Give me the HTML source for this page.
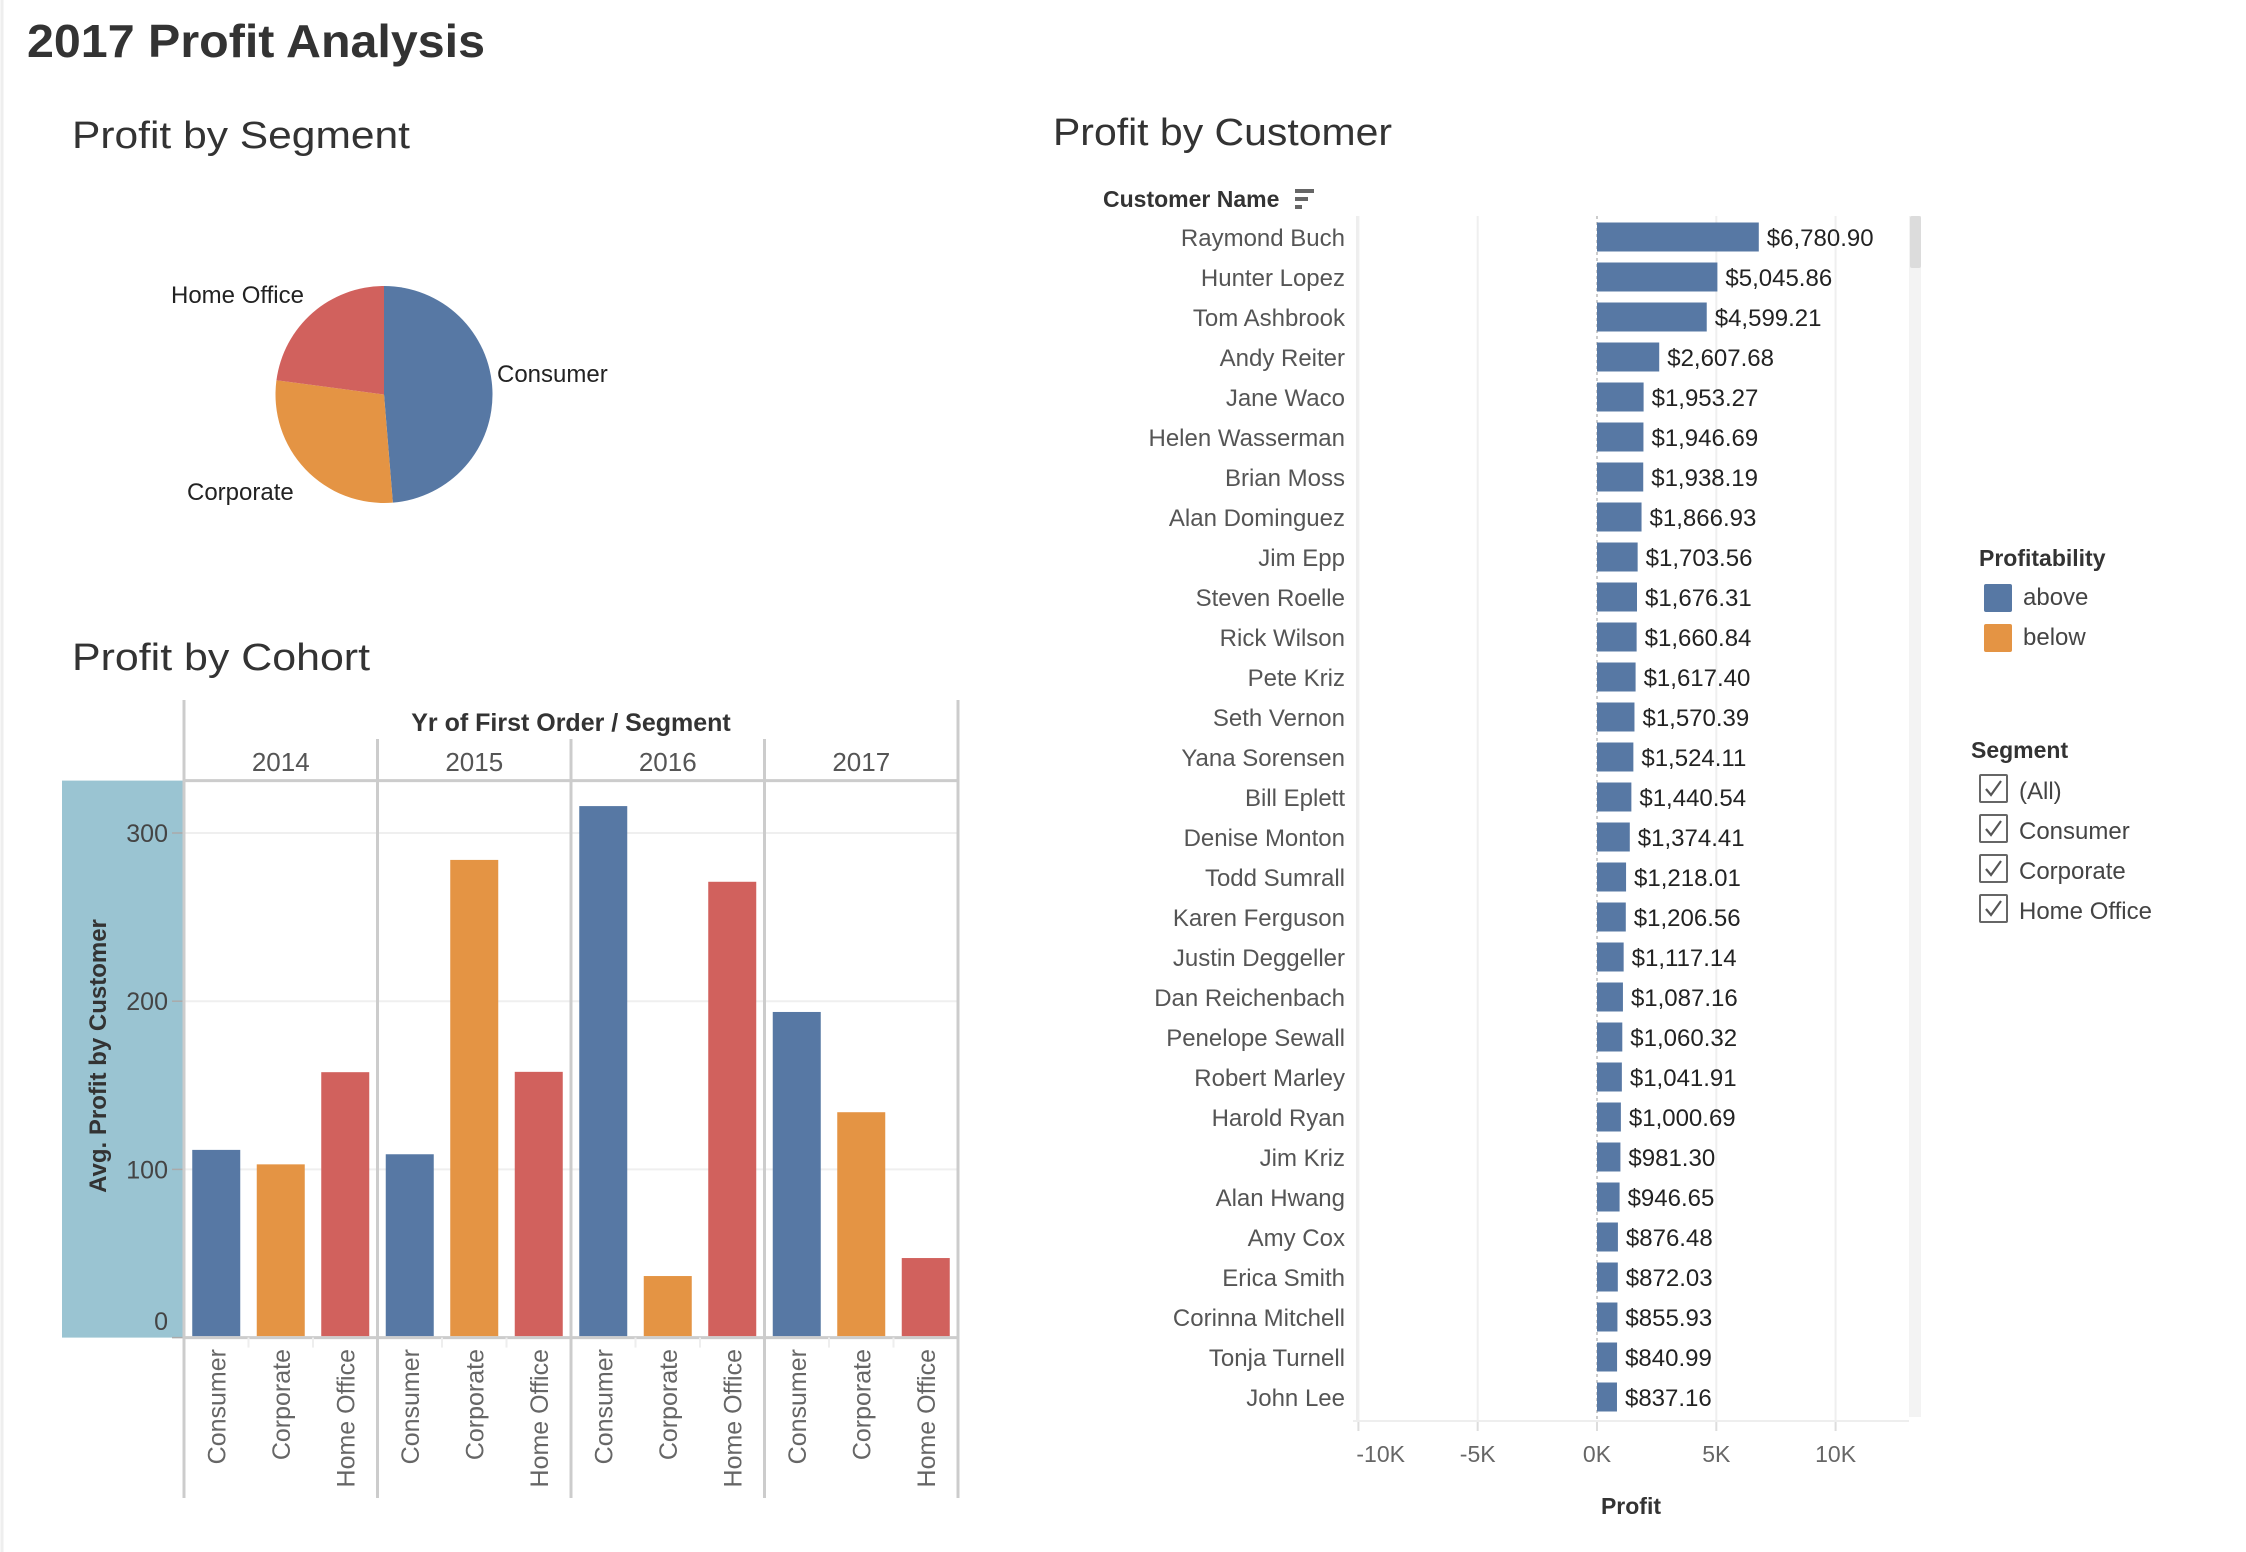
<!DOCTYPE html>
<html><head><meta charset="utf-8">
<style>
html,body{margin:0;padding:0;background:#fff;}
svg{display:block;font-family:"Liberation Sans",sans-serif;}
</style></head>
<body>
<svg id="root" xmlns="http://www.w3.org/2000/svg" width="2246" height="1552" viewBox="0 0 2246 1552">
<rect x="0" y="0" width="2246" height="1552" fill="#fff"/>
<line x1="2" y1="0" x2="2" y2="1552" stroke="#eeeeee" stroke-width="3"/>
<text x="27" y="57" font-size="46" font-weight="bold" fill="#333" textLength="458" lengthAdjust="spacingAndGlyphs">2017 Profit Analysis</text>
<text x="72" y="148" font-size="38" fill="#333" textLength="338" lengthAdjust="spacingAndGlyphs">Profit by Segment</text>
<text x="72" y="670" font-size="38" fill="#333" textLength="298" lengthAdjust="spacingAndGlyphs">Profit by Cohort</text>
<text x="1053" y="145" font-size="38" fill="#333" textLength="339" lengthAdjust="spacingAndGlyphs">Profit by Customer</text>
<g id="pie"></g>
<g id="cohort"></g>
<g id="cust"></g>
<g id="legend"></g>
</svg>
<script>
// ---- data ----
const pieSegments = ["Consumer","Corporate","Home Office"];
const pieValues = [48.7, 28.4, 22.9];
const cohortYears = ["2014","2015","2016","2017"];
const cohortSegments = ["Consumer","Corporate","Home Office"];
const cohortConsumer = [111.6, 109, 316, 193.6];
const cohortCorporate = [103, 284, 36.6, 134];
const cohortHomeOffice = [157.8, 158, 271, 47.3];
const cohortTicks = [0, 100, 200, 300];
const customerNames = ["Raymond Buch","Hunter Lopez","Tom Ashbrook","Andy Reiter","Jane Waco","Helen Wasserman","Brian Moss","Alan Dominguez","Jim Epp","Steven Roelle","Rick Wilson","Pete Kriz","Seth Vernon","Yana Sorensen","Bill Eplett","Denise Monton","Todd Sumrall","Karen Ferguson","Justin Deggeller","Dan Reichenbach","Penelope Sewall","Robert Marley","Harold Ryan","Jim Kriz","Alan Hwang","Amy Cox","Erica Smith","Corinna Mitchell","Tonja Turnell","John Lee"];
const customerProfit = [6780.90,5045.86,4599.21,2607.68,1953.27,1946.69,1938.19,1866.93,1703.56,1676.31,1660.84,1617.40,1570.39,1524.11,1440.54,1374.41,1218.01,1206.56,1117.14,1087.16,1060.32,1041.91,1000.69,981.30,946.65,876.48,872.03,855.93,840.99,837.16];
const profitTicks = [-10000,-5000,0,5000,10000];
const profitTickLabels = ["-10K","-5K","0K","5K","10K"];
const segLegend = ["(All)","Consumer","Corporate","Home Office"];
const profLegend = ["above","below"];

const NS="http://www.w3.org/2000/svg";
const COLORS={"Consumer":"#5778a4","Corporate":"#e49444","Home Office":"#d1615d"};
function mk(parent,tag,attrs,txt){const e=document.createElementNS(NS,tag);for(const k in attrs)e.setAttribute(k,attrs[k]);if(txt!==undefined)e.textContent=txt;parent.appendChild(e);return e;}

// ---- pie ----
(function(){
  const g=document.getElementById('pie');
  const cx=384, cy=394.5, r=108.5;
  const total=pieValues.reduce((a,b)=>a+b,0);
  let a0=0;
  const labelPos=[[497,382,"start"],[187,500,"start"],[171,303,"start"]];
  pieValues.forEach((v,i)=>{
    const a1=a0+v/total*2*Math.PI;
    const p=(a)=>[cx+r*Math.sin(a), cy-r*Math.cos(a)];
    const s=p(a0), e=p(a1), large=(a1-a0)>Math.PI?1:0;
    const path=mk(g,'path',{d:`M${cx},${cy} L${s[0]},${s[1]} A${r},${r} 0 ${large} 1 ${e[0]},${e[1]} Z`,fill:COLORS[pieSegments[i]]});
    
    
    const t=mk(g,'text',{x:labelPos[i][0],y:labelPos[i][1],'font-size':24,fill:'#222'},pieSegments[i]);
    
    
    a0=a1;
  });
})();

// ---- cohort bars ----
(function(){
  const g=document.getElementById('cohort');
  const L=184, paneW=193.5, top=780.6, y0=1337.6, per100=168.2;
  const yS=v=>y0-v/100*per100;
  const right=L+paneW*4;
  mk(g,'rect',{x:62,y:top,width:L-62,height:y0-top,fill:'#9ac4d2'});
  cohortTicks.forEach(t=>{
    if(t>0){const gl=mk(g,'line',{x1:L,x2:right,y1:yS(t),y2:yS(t),stroke:'#efefef','stroke-width':2});
      }
    mk(g,'line',{x1:172,x2:184,y1:yS(t),y2:yS(t),stroke:'#aaa','stroke-width':1.5});
    const tl=mk(g,'text',{x:168,y:t===0?1330:yS(t)+9,'text-anchor':'end','font-size':25,fill:'#444'},String(t));
    
  });
  const yt=mk(g,'text',{x:0,y:0,'font-size':24,'font-weight':'bold',fill:'#333','text-anchor':'middle',transform:'translate(106,1056) rotate(-90)'},'Avg. Profit by Customer');
  
  const ht=mk(g,'text',{x:(L+right)/2,y:731,'font-size':25,'font-weight':'bold',fill:'#333','text-anchor':'middle'},'Yr of First Order  /  Segment');
  
  mk(g,'line',{x1:L,x2:L,y1:700,y2:1498,stroke:'#ccc','stroke-width':3});
  mk(g,'line',{x1:right,x2:right,y1:700,y2:1498,stroke:'#ccc','stroke-width':3});
  mk(g,'line',{x1:L,x2:right,y1:top,y2:top,stroke:'#ccc','stroke-width':3});
  mk(g,'line',{x1:L,x2:right,y1:y0,y2:y0,stroke:'#ccc','stroke-width':3});
  const series=[cohortConsumer,cohortCorporate,cohortHomeOffice];
  cohortYears.forEach((yr,yi)=>{
    const px=L+paneW*yi;
    if(yi>0) mk(g,'line',{x1:px,x2:px,y1:739,y2:1498,stroke:'#ccc','stroke-width':3});
    const yl=mk(g,'text',{x:px+paneW/2,y:771,'font-size':26,fill:'#555','text-anchor':'middle'},yr);
    
    cohortSegments.forEach((seg,si)=>{
      const v=series[si][yi];
      const slot=paneW/3, bx=px+slot*si+(slot-48)/2;
      const b=mk(g,'rect',{x:bx,y:yS(v),width:48,height:y0-yS(v)-1.5,fill:COLORS[seg]});
      
      
      const cxl=px+slot*si+slot/2;
      const lab=mk(g,'text',{x:0,y:0,'font-size':25,fill:'#666','text-anchor':'end',transform:`translate(${cxl+9},1349) rotate(-90)`},seg);
      
      if(si>0) mk(g,'line',{x1:px+slot*si,x2:px+slot*si,y1:y0,y2:y0+10,stroke:'#eee','stroke-width':2});
    });
  });
})();

// ---- customer bars ----
(function(){
  const g=document.getElementById('cust');
  const x0=1597, per5k=119.3, top=216, bottom=1421, right=1909;
  const xS=v=>x0+v/5000*per5k;
  const h=mk(g,'text',{x:1103,y:207,'font-size':23,'font-weight':'bold',fill:'#333'},'Customer Name');
  
  const ic=mk(g,'g',{});
  
  mk(ic,'rect',{x:1295,y:189,width:19,height:4,fill:'#666'});
  mk(ic,'rect',{x:1295,y:197,width:13,height:4,fill:'#666'});
  mk(ic,'rect',{x:1295,y:205,width:7,height:4,fill:'#666'});
  mk(g,'line',{x1:1357,x2:1357,y1:top,y2:bottom,stroke:'#eee','stroke-width':2});
  profitTicks.forEach((t,i)=>{
    if(t!==0){const gl=mk(g,'line',{x1:xS(t),x2:xS(t),y1:top,y2:bottom,stroke:'#efefef','stroke-width':2});
      }
    mk(g,'line',{x1:xS(t),x2:xS(t),y1:bottom,y2:bottom+10,stroke:'#ddd','stroke-width':2});
    const first=(i===0);
    const tl=mk(g,'text',{x:first?xS(t)-2:xS(t),y:1462,'font-size':23,fill:'#666','text-anchor':first?'start':'middle'},profitTickLabels[i]);
    
  });
  mk(g,'line',{x1:1353,x2:right,y1:bottom,y2:bottom,stroke:'#eee','stroke-width':2});
  mk(g,'line',{x1:x0,x2:x0,y1:top,y2:bottom,stroke:'#bbb','stroke-width':1.5,'stroke-dasharray':'3,3'});
  const xt=mk(g,'text',{x:1631,y:1514,'font-size':23,'font-weight':'bold',fill:'#333','text-anchor':'middle'},'Profit');
  
  customerNames.forEach((n,i)=>{
    const cy=237+40*i, v=customerProfit[i];
    const nl=mk(g,'text',{x:1345,y:cy+9,'font-size':24,fill:'#555','text-anchor':'end'},n);
    
    const b=mk(g,'rect',{x:x0,y:cy-14.5,width:xS(v)-x0,height:29,fill:'#5778a4'});
    
    const vl=mk(g,'text',{x:xS(v)+8,y:cy+9,'font-size':24,fill:'#222'},'$'+v.toLocaleString('en-US',{minimumFractionDigits:2,maximumFractionDigits:2}));
    
  });
  const sb=mk(g,'rect',{x:1909,y:top,width:12,height:bottom-top-4,fill:'#f3f3f3'});
  
  const th=mk(g,'rect',{x:1910,y:top,width:11,height:52,fill:'#dcdcdc',rx:2});
  
})();

// ---- legends ----
(function(){
  const g=document.getElementById('legend');
  const t1=mk(g,'text',{x:1979,y:566,'font-size':23,'font-weight':'bold',fill:'#333'},'Profitability');
  
  const pc=['#5778a4','#e49444'];
  profLegend.forEach((l,i)=>{
    const sw=mk(g,'rect',{x:1984,y:584+40*i,width:28,height:28,rx:2,fill:pc[i]});
    
    const tx=mk(g,'text',{x:2023,y:605+40*i,'font-size':24,fill:'#444'},l);
    
  });
  const t2=mk(g,'text',{x:1971,y:758,'font-size':23,'font-weight':'bold',fill:'#333'},'Segment');
  
  segLegend.forEach((l,i)=>{
    const y=774+40*i;
    const cb=mk(g,'rect',{x:1980,y:y+1,width:27,height:27,fill:'#fff',stroke:'#666','stroke-width':2,rx:1});
    
    mk(g,'path',{d:`M${1986},${y+15} L${1991},${y+21} L${2001},${y+7}`,fill:'none',stroke:'#555','stroke-width':2.2});
    const tx=mk(g,'text',{x:2019,y:y+25,'font-size':24,fill:'#444'},l);
    
  });
})();
</script>
</body></html>
